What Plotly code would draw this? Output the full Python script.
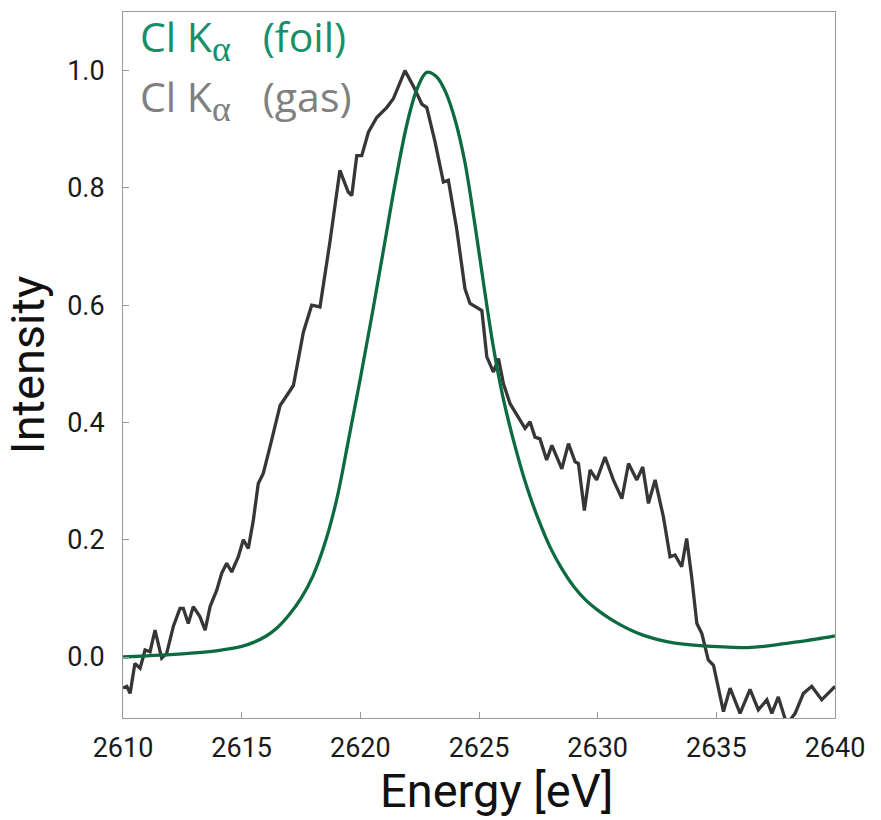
import plotly.graph_objects as go

# Cl K-alpha (foil)
foil_E = [2610.0, 2611.0, 2612.0, 2613.0, 2614.0, 2615.0, 2615.5, 2616.0, 2616.5, 2617.0,
          2617.5, 2618.0, 2618.5, 2619.0, 2619.5, 2620.0, 2620.5, 2621.0, 2621.5, 2622.0,
          2622.4, 2622.8, 2623.2, 2623.6, 2624.0, 2624.4, 2624.8, 2625.2, 2625.6, 2626.0,
          2626.45, 2627.0, 2627.5, 2628.0, 2628.5, 2629.0, 2629.5, 2630.0, 2630.5, 2631.0,
          2631.5, 2632.0, 2632.5, 2633.2, 2634.45, 2635.5, 2636.3, 2637.0, 2637.7, 2638.8,
          2639.9, 2640.0]
foil_I = [0.0, 0.002, 0.004, 0.007, 0.011, 0.018, 0.025, 0.035, 0.05, 0.072,
          0.1, 0.138, 0.193, 0.268, 0.37, 0.475, 0.585, 0.70, 0.815, 0.915,
          0.97, 0.997, 0.99, 0.963, 0.915, 0.845, 0.745, 0.635, 0.53, 0.445,
          0.37, 0.292, 0.235, 0.187, 0.15, 0.12, 0.097, 0.08, 0.066, 0.054,
          0.044, 0.036, 0.03, 0.024, 0.019, 0.017, 0.016, 0.018, 0.022, 0.028,
          0.035, 0.036]

# Cl K-alpha (gas)
gas_E = [2610.0, 2610.16, 2610.3, 2610.5, 2610.72, 2610.93, 2611.14, 2611.35, 2611.63, 2611.84,
         2612.12, 2612.4, 2612.54, 2612.75, 2612.96, 2613.24, 2613.46, 2613.67, 2613.95, 2614.16,
         2614.37, 2614.58, 2614.86, 2615.07, 2615.28, 2615.49, 2615.7, 2615.91, 2616.19, 2616.48,
         2616.62, 2617.18, 2617.6, 2617.95, 2618.3, 2618.72, 2619.14, 2619.28, 2619.49, 2619.64,
         2619.85, 2620.06, 2620.34, 2620.69, 2621.11, 2621.39, 2621.88, 2622.23, 2622.59, 2622.8,
         2623.15, 2623.5, 2623.71, 2624.06, 2624.41, 2624.62, 2625.12, 2625.33, 2625.61, 2625.82,
         2626.03, 2626.31, 2626.66, 2626.94, 2627.15, 2627.36, 2627.57, 2627.85, 2628.07, 2628.49,
         2628.77, 2629.05, 2629.19, 2629.44, 2629.68, 2629.96, 2630.31, 2630.66, 2631.02, 2631.3,
         2631.65, 2631.9, 2632.14, 2632.42, 2632.77, 2633.05, 2633.26, 2633.54, 2633.75, 2633.96,
         2634.18, 2634.39, 2634.66, 2634.88, 2635.3, 2635.58, 2636.0, 2636.42, 2636.77, 2637.13,
         2637.34, 2637.61, 2637.97, 2638.32, 2638.67, 2639.02, 2639.44, 2639.93, 2640.0]
gas_I = [-0.053, -0.05, -0.062, -0.011, -0.019, 0.012, 0.009, 0.046, -0.002, 0.006,
         0.052, 0.083, 0.083, 0.057, 0.086, 0.069, 0.046, 0.086, 0.114, 0.143,
         0.16, 0.145, 0.171, 0.2, 0.185, 0.233, 0.296, 0.313, 0.358, 0.404,
         0.429, 0.463, 0.554, 0.6, 0.597, 0.708, 0.83, 0.815, 0.793, 0.787,
         0.855, 0.855, 0.895, 0.92, 0.937, 0.952, 1.0, 0.974, 0.943, 0.937,
         0.878, 0.81, 0.813, 0.73, 0.628, 0.603, 0.591, 0.512, 0.486, 0.509,
         0.466, 0.432, 0.409, 0.39, 0.401, 0.375, 0.372, 0.336, 0.361, 0.321,
         0.364, 0.333, 0.33, 0.25, 0.319, 0.302, 0.341, 0.302, 0.27, 0.33,
         0.302, 0.324, 0.262, 0.302, 0.239, 0.171, 0.174, 0.154, 0.202, 0.137,
         0.057, 0.04, -0.005, -0.014, -0.093, -0.053, -0.096, -0.055, -0.09, -0.073,
         -0.096, -0.068, -0.115, -0.096, -0.062, -0.05, -0.073, -0.053, -0.05]

x_ticks = [2610, 2615, 2620, 2625, 2630, 2635, 2640]
y_ticks = [0.0, 0.2, 0.4, 0.6, 0.8, 1.0]

FONT = "Roboto, sans-serif"
GREEN_LINE = "#0d6b40"
GREEN_TEXT = "#17906a"
GAS_LINE = "#363636"
GAS_TEXT = "#808080"

fig = go.Figure()
fig.add_trace(go.Scatter(x=gas_E, y=gas_I, mode="lines",
                         line=dict(color=GAS_LINE, width=3.3), showlegend=False))
fig.add_trace(go.Scatter(x=foil_E, y=foil_I, mode="lines",
                         line=dict(color=GREEN_LINE, width=3.3, shape="spline", smoothing=1.0),
                         showlegend=False))

alpha = ('<sub><span style="font-family:Liberation Serif, DejaVu Serif, serif;'
         'font-size:36px">α</span></sub>')
fig.add_annotation(xref="paper", yref="paper", x=0.021, y=0.962, xanchor="left", yanchor="middle",
                   text="Cl K" + alpha + "   (foil)", showarrow=False,
                   font=dict(family="Open Sans, sans-serif", size=41, color=GREEN_TEXT))
fig.add_annotation(xref="paper", yref="paper", x=0.021, y=0.878, xanchor="left", yanchor="middle",
                   text="Cl K" + alpha + "   (gas)", showarrow=False,
                   font=dict(family="Open Sans, sans-serif", size=41, color=GAS_TEXT))
fig.add_annotation(xref="paper", yref="paper", x=0.525, y=-0.102, xanchor="center", yanchor="middle",
                   text="Energy [eV]", showarrow=False,
                   font=dict(family=FONT, size=47, color="#111"))

axis_common = dict(showline=True, linecolor="#9a9a9a", linewidth=1, mirror=True,
                   ticks="inside", ticklen=6, tickcolor="#9a9a9a", showgrid=False,
                   zeroline=False, tickfont=dict(family=FONT, size=27, color="#1a1a1a"))
fig.update_xaxes(range=[2610, 2640], tickvals=x_ticks, ticktext=[str(v) for v in x_ticks],
                 ticklabelstandoff=6, **axis_common)
fig.update_yaxes(range=[-0.104, 1.1], tickvals=y_ticks, ticktext=[f"{v:.1f}" for v in y_ticks],
                 title=dict(text="Intensity", font=dict(family=FONT, size=47, color="#111"), standoff=14),
                 ticklabelstandoff=12, **axis_common)

fig.update_layout(width=881, height=820, margin=dict(l=123, r=46, t=12, b=102),
                  plot_bgcolor="white", paper_bgcolor="white")

fig.write_html("out.html")
